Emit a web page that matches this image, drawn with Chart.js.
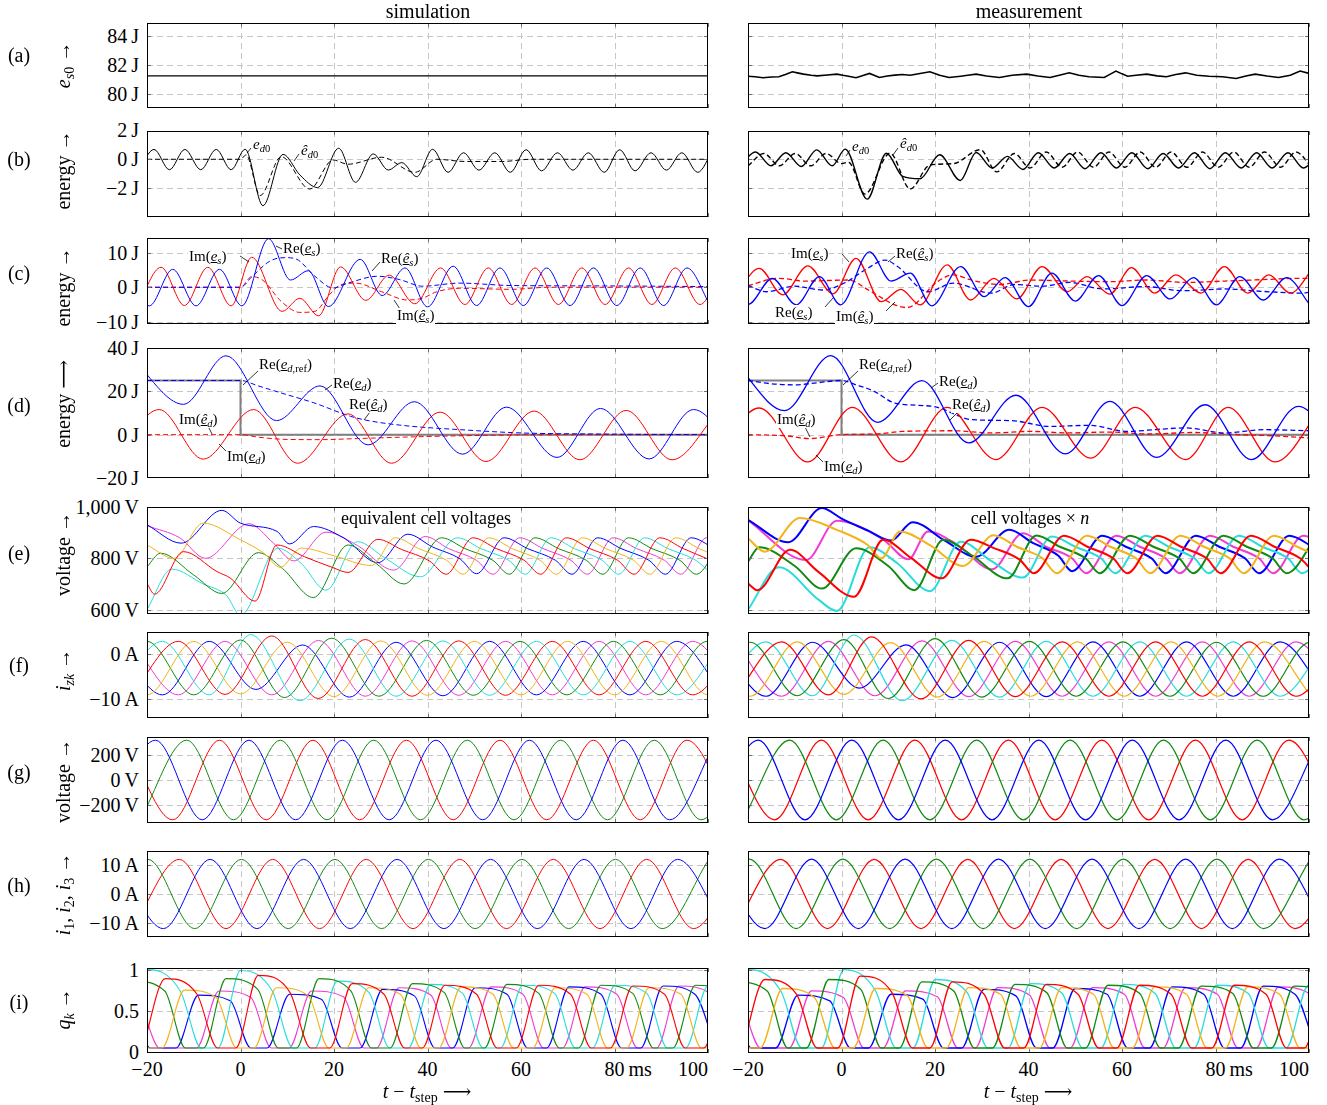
<!DOCTYPE html>
<html><head><meta charset="utf-8"><title>Step response: simulation and measurement</title>
<script src="https://cdn.jsdelivr.net/npm/chart.js@4.4.1/dist/chart.umd.min.js"></script>
<style>
html,body{margin:0;padding:0;background:#fff}
body{position:relative;width:1327px;height:1105px;overflow:hidden;font-family:"Liberation Serif","DejaVu Serif",serif;color:#000}
canvas.pl{position:absolute;display:block}
.tx{position:absolute;white-space:nowrap;line-height:1;font-size:20px}
.an{position:absolute;white-space:nowrap;line-height:1.05;font-size:15px;background:#fff;padding:0 1px}
sub{font-size:0.7em;vertical-align:-0.3em;line-height:0}
svg.ld{position:absolute;left:0;top:0;pointer-events:none}
</style></head><body>
<script>
// ---------- time axis (ms, relative to the step) ----------
const tTicks = [-20, 0, 20, 40, 60, 80, 100];
const tGrid = [0, 20, 40, 60, 80];
const tLabels = ['\u221220', '0', '20', '40', '60', '80', '100'];

// ---------- (a) sum energy e_s0 [J] : flat pairs t,value ----------
const aSimEs0 = [-20,81.26, 100,81.26];
const aMeasEs0 = [-20,81.24, -18.5,81.2, -16.8,81.13, -15,81.18, -13.4,81.2, -12,81.35, -10.5,81.54, -9.2,81.45, -8.1,81.38,
  -6.5,81.3, -5.2,81.26, -3,81.32, -1,81.38, 0.3,81.3, 1.5,81.24, 3.1,81.13, 4.6,81.28, 6,81.43, 8.1,81.15, 9.8,81.25,
  11.4,81.31, 13,81.36, 14.7,81.3, 16.8,81.42, 18.9,81.54, 21,81.3, 23,81.15, 25.5,81.24, 27,81.3, 28.8,81.38, 31,81.25,
  33.8,81.15, 36.5,81.3, 39.6,81.38, 42,81.25, 44.6,81.15, 46.8,81.32, 48.7,81.47, 50.8,81.3, 52.9,81.2, 56.2,81.15,
  57.5,81.38, 58.7,81.59, 60,81.4, 61.2,81.24, 63,81.3, 65.3,81.38, 67.5,81.26, 69.5,81.2, 71.5,81.35, 73.6,81.47,
  76,81.3, 78.6,81.24, 81.5,81.2, 84.4,81.08, 86.5,81.25, 88.5,81.38, 91,81.25, 93.5,81.15, 96,81.3, 98.1,81.59, 100,81.43];

// ---------- (b) e_d0 and its estimate [J] ----------
const bSimEd0 = [-21.8,-0.72, -18.5,0.68, -15.2,-0.72, -11.9,0.68, -8.5,-0.72, -5.2,0.68, -2,-0.72, 1.0,0.69, 4.8,-3.2,
  9.1,0.34, 12.7,-1.08, 16.5,-1.95, 21,0.76, 24.6,-1.59, 28.4,0.37, 31.6,-0.74, 34.5,-0.23, 37.7,-1.2, 41.1,0.69,
  44.4,-0.9, 47.7,0.45, 51,-0.75, 54.4,0.45, 57.7,-0.9, 61.1,0.66, 64.4,-0.8, 67.8,0.45, 71.1,-0.75, 74.4,0.45,
  77.8,-0.9, 81.1,0.66, 84.4,-0.8, 87.8,0.45, 91.1,-0.75, 94.4,0.45, 97.8,-0.9, 101.1,0.66];
const bSimEd0Hat = [-20,0, 0,0, 1.2,0.3, 4.2,-2.5, 8.7,0.18, 14.8,-2.05, 19.8,-0.05, 23,-0.34, 30.2,0.14, 37.3,-0.9,
  42,0, 48,-0.15, 56,-0.15, 62,0, 100,0];
const bMeasEd0 = [-21.7,-0.45, -18.4,0.5, -15.1,-0.45, -11.9,0.45, -8.6,-0.5, -5.3,0.65, -2,-0.45, 0.8,0.7, 5.5,-2.75,
  9.6,0.42, 13.1,-1.18, 16.8,-1.34, 21,0.31, 25.4,-1.46, 28.8,0.47, 32.2,-0.6, 35.5,0.2, 38.8,-0.7, 42.1,0.45,
  45.5,-0.6, 48.8,0.4, 52.1,-0.65, 55.5,0.45, 58.8,-0.6, 62.1,0.45, 65.5,-0.65, 68.8,0.4, 72.1,-0.6, 75.5,0.45,
  78.8,-0.65, 82.1,0.45, 85.5,-0.6, 88.8,0.45, 92.1,-0.6, 95.5,0.45, 98.8,-0.6, 102.1,0.45];
const bMeasEd0Hat = [-20,-0.45, -16.6,0.4, -13.3,-0.45, -9.9,0.4, -6.6,-0.45, -3.3,0.4, 0,-0.3, 1.5,-0.2, 5,-2.4,
  10.4,0.42, 14.7,-2.05, 18.9,-0.4, 23.9,-0.3, 29.7,0.66, 33.2,-0.87, 37,0.4, 40.3,-0.6, 43.8,0.5, 47.2,-0.55,
  50.5,0.5, 53.9,-0.55, 57.2,0.5, 60.6,-0.55, 63.9,0.5, 67.2,-0.55, 70.5,0.5, 73.9,-0.55, 77.2,0.5, 80.6,-0.55,
  83.9,0.5, 87.2,-0.55, 90.5,0.5, 93.9,-0.55, 97.2,0.5, 100.6,-0.55];

// ---------- (c) complex sum energy e_s [J] ----------
const cSimRe = [-24.5,5.2, -19.5,-5.4, -14.5,5.2, -9.5,-5.4, -4.5,5.2, 0.3,-5.4, 6,14.1, 10.7,2.1, 14.5,4.8, 18.8,-5.6,
  25.6,8.1, 30.3,-2.4, 35.2,5.6, 40,-5.7, 45.5,6.1, 50.5,-5.3, 55.5,5.6, 60.5,-5.3, 65.5,5.6, 70.5,-5.3, 75.5,5.6,
  80.5,-5.3, 85.5,5.6, 90.5,-5.3, 95.5,5.6, 100.5,-5.3];
const cSimIm = [-22,-5.2, -17,5.8, -12,-5.3, -7,5.8, -2,-5.4, 2.4,8.7, 8.9,-7.0, 12.7,-3.2, 16.7,-8.3, 21.4,5.9,
  26.8,-3.8, 31.8,3.5, 37.3,-4.8, 42.8,5.6, 48,-5.0, 53,5.6, 58,-5.0, 63,5.6, 68,-5.0, 73,5.6, 78,-5.0, 83,5.6,
  88,-5.0, 93,5.6, 98.3,-5.0, 103,5.6];
const cSimReHat = [-20,0, 0,0, 2.4,3.0, 6.3,7.6, 9.5,8.6, 11.9,8.2, 15.9,3.2, 19.8,-0.2, 23,1.2, 29.4,3.2, 34.1,2.2,
  38.9,0.3, 46.8,1.2, 58,0.5, 75,0.4, 100,0.2];
const cSimImHat = [-20,0, 0,0, 2.4,3.1, 4.8,2.0, 8.7,-4.1, 12.7,-7.3, 15.9,-7.0, 19,-2.2, 21.4,0.7, 24.6,1.2, 30.2,-1.3,
  35.7,-3.7, 38.9,-3.2, 42,-1.3, 46.8,-0.3, 58,-0.6, 66,0, 100,0];
const cMeasRe = [-25,2.6, -20,-5.0, -14.8,2.6, -9.7,-5.1, -4.7,3.1, -0.2,-5.1, 6,10.3, 10.6,1.8, 14.7,4.1, 19.3,-5.4,
  25.5,6.0, 30.5,-2.7, 35,2.8, 40,-5.6, 45,4.1, 50,-4.0, 55,3.4, 60,-5.3, 65.3,3.4, 70.3,-3.4, 75.3,2.8, 80.2,-5.1,
  85.2,3.1, 90.2,-3.7, 95.2,2.8, 100.2,-5.1];
const cMeasIm = [-22.5,-2.0, -17.6,5.5, -12.6,-2.2, -7.2,6.2, -1.8,-1.9, 3.1,8.4, 8.5,-4.2, 12.7,-0.6, 16.8,-5.1,
  22.6,6.5, 27.6,-3.7, 32.6,2.6, 37.5,-3.4, 42.9,6.0, 48.3,-1.3, 52.5,3.1, 57.4,-2.0, 62,5.7, 67,-1.7, 71.5,3.6,
  76.9,-1.7, 81.9,6.0, 86.9,-1.7, 91.4,3.6, 96,-1.7, 101,5.8];
const cMeasReHat = [-20,0.5, -16,-1.3, -10,0.3, -4,-0.8, 1,1.5, 5,5.0, 9.4,7.9, 12,6.0, 18.5,-1.3, 23.9,1.2, 32,-1.7,
  37,0.8, 43,0.3, 48.7,1.4, 56,-0.5, 65,0.2, 73,-1.0, 82,-0.5, 90,-1.2, 98.5,-1.7, 100,-1.5];
const cMeasImHat = [-20,0.5, -13.4,2.6, -8,1.8, 1.5,2.1, 6,-1.0, 11.4,-5.1, 14,-5.9, 20.5,1.6, 23.9,3.6, 28,2.0,
  33.8,0.8, 40.4,2.1, 48.7,1.8, 57,1.6, 65.3,2.1, 73.6,1.4, 82,1.8, 90,2.2, 98.5,2.6, 100,2.6];

// ---------- (d) complex difference energy e_d [J] ----------
const dRef = [-20,25, 0,25, 0,0, 100,0];
const dSimRe = [-23.5,36, -12.2,14, -3.1,36.4, 7.7,6.5, 17,22.5, 27.3,-4.7, 37.2,15.2, 47.5,-9, 56.9,12.7, 67.7,-10.5,
  77,12.1, 87.4,-11.2, 96.9,11.6, 107,-11.5];
const dSimIm = [-27,-11, -17.4,11.6, -8,-11.3, 2.8,11.6, 12.2,-13.2, 23,9.6, 32.3,-13.2, 42.7,10.4, 52.5,-12.4,
  62.8,10.9, 72.6,-11.6, 82.5,11.2, 92.3,-11.6, 102.3,11];
const dSimReHat = [-20,25, 0,25, 3.8,22.5, 9.7,18.6, 15.7,14.7, 23.5,8.5, 27.3,6.5, 35,4.2, 47,2.3, 60,0.8, 76.6,0.3, 100,0];
const dSimImHat = [-20,0, 0,0, 4,-1.2, 10,-2.2, 17,-2.3, 25,-1.8, 37,-1.0, 50,-0.4, 65,0, 100,0];
const dMeasRe = [-23,34, -12.2,11.1, -2.3,36.5, 7.7,5.7, 17.2,24.9, 27.2,-3.8, 37.3,18.2, 47.9,-8.9, 57.4,15.4,
  67.4,-10.5, 77.8,13.8, 87.7,-11.5, 97.7,13.1, 107.7,-11.5];
const dMeasIm = [-27.5,-12, -17.6,12.3, -7.2,-12.6, 2.3,12.6, 12.7,-12.6, 22.6,12.6, 33,-11.5, 42.9,12.6, 53.3,-10.8,
  62.8,12.6, 73.6,-11.5, 82.7,12.6, 92.7,-12.6, 102.7,12.6];
const dMeasReHat = [-20,25, -15,23.5, -10,23, -5,24, 0,25, 3.1,23, 7,20, 11.4,14.6, 19.7,13, 28,6.9, 36.3,6.5,
  44.6,3.8, 52.9,4.3, 61.2,1.5, 68,2.5, 73.6,3.1, 82,0.8, 90.2,2.3, 100,1.8];
const dMeasImHat = [-20,0, -12,-0.5, -6.8,-1.8, 0,0, 7.3,0.3, 13,1.5, 23.9,1.8, 32,0.8, 40.4,1.5, 48.7,0.8, 57,1.2,
  66,0.3, 75,1.0, 85,0, 92,-0.5, 100,-1.5];

// ---------- (e) cell voltages [V] ----------
const eSimRed = [-20,702, -18.4,660, -12.2,826, -5,748, -2.1,722, 3.1,633, 7.8,852, 13.7,806, 19.6,765, 23,745, 29.4,874,
  34.4,835, 40.4,790, 44,738, 49.7,880, 54.7,838, 60.7,792, 64.2,738, 69.7,880, 74.7,838, 80.7,792, 84.2,738, 89.7,880,
  94.7,838, 100.7,792];
const eSimOrange = [-20,852, -14.2,800, -8,937, 0,872, 5,820, 8.5,765, 13,840, 20,810, 28,772, 33.1,880, 38.1,838, 44.1,792,
  47.6,738, 53.1,880, 58.1,838, 64.1,792, 67.6,738, 73.1,880, 78.1,838, 84.1,792, 87.6,738, 93.1,880, 98.1,838, 104.1,792];
const eSimGreen = [-20,767, -17.1,820, -10,735, -4,663, 3.8,822, 9,760, 15.6,647, 23,852, 29,780, 35,700, 43,880, 48,838,
  54,792, 57.5,738, 63,880, 68,838, 74,792, 77.5,738, 83,880, 88,838, 94,792, 97.5,738, 103,880];
const eSimCyan = [-20,600, -14.7,758, -8,700, -3,655, 0,578, 8,839, 13,780, 18.3,676, 25,865, 31,800, 38.5,728, 46.4,880,
  51.4,838, 57.4,792, 60.9,738, 66.4,880, 71.4,838, 77.4,792, 80.9,738, 86.4,880, 91.4,838, 97.4,792, 100.9,738];
const eSimBlue = [-20,931, -12.7,859, -4,987, 0,937, 7.8,905, 10.5,856, 15.6,924, 22,880, 29.4,783, 35.8,894, 41,845,
  47,797, 50.5,740, 56.4,880, 61.4,838, 67.4,792, 70.9,738, 76.4,880, 81.4,838, 87.4,792, 90.9,738, 96.4,880, 101.4,838];
const eSimMagenta = [-20,927, -13,880, -7.5,800, 1.8,935, 7,860, 11.4,790, 18.3,902, 25,850, 32.8,754, 39.5,885, 44.5,838,
  50.5,792, 54,738, 59.7,880, 64.7,838, 70.7,792, 74.2,738, 79.7,880, 84.7,838, 90.7,792, 94.2,738, 99.7,880, 104.7,838];
const eMeasRed = [-20,702, -18,676, -11,833, -5,748, 2.7,650, 8.9,872, 15,800, 21.4,722, 27.6,872, 32.6,840, 38.1,795,
  41.1,742, 47.6,888, 52.6,845, 58.1,800, 61.1,742, 67.6,888, 72.6,845, 78.1,800, 81.1,742, 87.6,888, 92.6,845, 98.1,800,
  101.1,742];
const eMeasOrange = [-20,878, -16.4,826, -8.9,957, -1,911, 5.6,852, 8.5,800, 12.5,905, 19,850, 26,770, 32.5,890, 37.5,845,
  43,800, 46,742, 52.5,888, 57.5,845, 63,800, 66,742, 72.5,888, 77.5,845, 83,800, 86,742, 92.5,888, 97.5,845, 103,800];
const eMeasGreen = [-20,787, -17.6,843, -10,770, -4.2,682, 3.1,839, 10,770, 15.6,676, 21.8,872, 28,810, 35.5,722, 41.7,889,
  46.7,845, 52.2,800, 55.2,742, 61.7,888, 66.7,845, 72.2,800, 75.2,742, 81.7,888, 86.7,845, 92.2,800, 95.2,742, 101.7,888];
const eMeasCyan = [-20,600, -13.4,765, -5,640, -1,595, 6,843, 12,780, 18.9,672, 25.5,865, 32,790, 38.8,725, 45,885, 50,845,
  55.5,800, 58.5,742, 65,888, 70,845, 75.5,800, 78.5,742, 85,888, 90,845, 95.5,800, 98.5,742, 105,888];
const eMeasBlue = [-20,950, -11.4,863, -4.2,996, 0,955, 6,905, 10.6,869, 15.2,941, 22,870, 28.8,806, 35.9,911, 40.9,860,
  46.4,810, 49.3,750, 55.8,888, 60.8,845, 66.3,800, 69.3,742, 75.8,888, 80.8,845, 86.3,800, 89.3,742, 95.8,888, 100.8,845];
const eMeasMagenta = [-20,948, -7.6,793, -1,946, 9,872, 14.3,796, 18.5,905, 25,850, 32.2,757, 38.8,898, 43.8,845, 49.3,800,
  52.3,742, 58.8,888, 63.8,845, 69.3,800, 72.3,742, 78.8,888, 83.8,845, 89.3,800, 92.3,742, 98.8,888, 103.8,845];

// ---------- (f) branch currents i_zk [A] : extrema ----------
const fSimGreen = [-30,-9.0, -20,2.8, -10,-9.0, 0,3.1, 9.4,-9.6, 19.5,3.5, 29.6,-9.3, 39.8,3.0, 49.8,-9.1, 59.8,2.8, 69.8,-9.0, 79.8,2.8, 89.8,-9.0, 99.8,2.8, 109.8,-9.0];
const fSimCyan = [-26.7,-9.0, -16.7,2.8, -6.7,-9.0, 2.2,4.3, 12.7,-10.3, 23.3,3.3, 33.3,-9.3, 43.3,2.9, 53.3,-9.1, 63.3,2.8, 73.3,-9.0, 83.3,2.8, 93.3,-9.0, 103.3,2.8];
const fSimRed = [-23.3,-9.0, -13.3,2.8, -3.3,-8.9, 6.7,4.0, 16.6,-9.8, 26.7,3.2, 36.7,-9.3, 46.7,2.9, 56.7,-9.1, 66.7,2.8, 76.7,-9.0, 86.7,2.8, 96.7,-9.0, 106.7,2.8];
const fSimOrange = [-30,2.8, -20,-9.0, -10,2.8, 0,-8.8, 10,2.6, 20,-9.4, 30,2.9, 40,-9.1, 50,2.8, 60,-9.0, 70,2.8, 80,-9.0, 90,2.8, 100,-9.0, 110,2.8];
const fSimBlue = [-26.7,2.8, -16.7,-9.0, -6.7,2.8, 3.3,-7.8, 13.3,2.0, 23.3,-9.5, 33.3,2.6, 43.3,-9.2, 53.3,2.8, 63.3,-9.0, 73.3,2.8, 83.3,-9.0, 93.3,2.8, 103.3,-9.0];
const fSimMagenta = [-23.3,2.8, -13.3,-9.0, -3.3,2.8, 6.7,-9.0, 16.7,3.0, 26.7,-9.3, 36.7,2.9, 46.7,-9.1, 56.7,2.8, 66.7,-9.0, 76.7,2.8, 86.7,-9.0, 96.7,2.8, 106.7,-9.0];
const fMeasGreen = [-30,-9.2, -19.5,2.6, -9.5,-9.2, 0.5,3.2, 10,-9.8, 20,3.4, 30,-9.5, 40.2,2.8, 50.2,-9.3, 60.2,2.7, 70.2,-9.3, 80.2,2.6, 90.2,-9.3, 100.2,2.6, 110,-9.3];
const fMeasCyan = [-26.2,-9.3, -16.2,2.7, -6.2,-9.2, 2.7,4.2, 13,-10.3, 23.6,3.0, 33.8,-9.5, 43.8,2.8, 53.8,-9.3, 63.8,2.7, 73.8,-9.3, 83.8,2.7, 93.8,-9.3, 103.8,2.7];
const fMeasRed = [-22.8,-9.3, -12.8,2.7, -2.8,-9.0, 6.4,3.8, 17,-9.9, 27.2,3.0, 37.2,-9.4, 47.2,2.7, 57.2,-9.3, 67.2,2.7, 77.2,-9.3, 87.2,2.7, 97.2,-9.3, 107.2,2.7];
const fMeasOrange = [-29.5,2.7, -19.5,-9.3, -9.5,2.7, 0.5,-8.9, 10.5,2.5, 20.5,-9.5, 30.5,2.8, 40.5,-9.3, 50.5,2.7, 60.5,-9.3, 70.5,2.7, 80.5,-9.3, 90.5,2.7, 100.5,-9.3];
const fMeasBlue = [-26.2,2.7, -16.2,-9.3, -6.2,2.6, 3.8,-7.5, 13.8,2.0, 23.8,-9.6, 33.8,2.6, 43.8,-9.4, 53.8,2.7, 63.8,-9.3, 73.8,2.7, 83.8,-9.3, 93.8,2.7, 103.8,-9.3];
const fMeasMagenta = [-22.8,2.7, -12.8,-9.3, -2.8,2.8, 7.2,-9.2, 17.2,2.9, 27.2,-9.4, 37.2,2.8, 47.2,-9.3, 57.2,2.7, 67.2,-9.3, 77.2,2.7, 87.2,-9.3, 97.2,2.7, 107.2,-9.3];

// ---------- (g) phase voltages [V] : extrema ----------
const gSimBlue = [-28.2,-325, -18.2,325, -8.2,-325, 1.8,325, 11.8,-325, 21.8,325, 31.8,-325, 41.8,325, 51.8,-325, 61.8,325, 71.8,-325, 81.8,325, 91.8,-325, 101.8,325];
const gSimGreen = [-21.5,-325, -11.5,325, -1.5,-325, 8.5,325, 18.5,-325, 28.5,325, 38.5,-325, 48.5,325, 58.5,-325, 68.5,325, 78.5,-325, 88.5,325, 98.5,-325, 108.5,325];
const gSimRed = [-24.5,325, -14.5,-325, -4.5,325, 5.5,-325, 15.5,325, 25.5,-325, 35.5,325, 45.5,-325, 55.5,325, 65.5,-325, 75.5,325, 85.5,-325, 95.5,325, 105.5,-325];
const gMeasBlue = [-27.8,-325, -17.8,325, -7.8,-325, 2.2,325, 12.2,-325, 22.2,325, 32.2,-325, 42.2,325, 52.2,-325, 62.2,325, 72.2,-325, 82.2,325, 92.2,-325, 102.2,325];
const gMeasGreen = [-21.1,-325, -11.1,325, -1.1,-325, 8.9,325, 18.9,-325, 28.9,325, 38.9,-325, 48.9,325, 58.9,-325, 68.9,325, 78.9,-325, 88.9,325, 98.9,-325, 108.9,325];
const gMeasRed = [-24.3,325, -14.3,-325, -4.3,325, 5.7,-325, 15.7,325, 25.7,-325, 35.7,325, 45.7,-325, 55.7,325, 65.7,-325, 75.7,325, 85.7,-325, 95.7,325, 105.7,-325];

// ---------- (h) phase currents i1, i2, i3 [A] : extrema ----------
const hSimGreen = [-29.8,-12, -19.8,12, -9.8,-12, 0.2,12, 10.2,-12, 20.2,12, 30.2,-12, 40.2,12, 50.2,-12, 60.2,12, 70.2,-12, 80.2,12, 90.2,-12, 100.2,12];
const hSimRed = [-23.1,-12, -13.1,12, -3.1,-12, 6.9,12, 16.9,-12, 26.9,12, 36.9,-12, 46.9,12, 56.9,-12, 66.9,12, 76.9,-12, 86.9,12, 96.9,-12, 106.9,12];
const hSimBlue = [-26.5,12, -16.5,-12, -6.5,12, 3.5,-12, 13.5,12, 23.5,-12, 33.5,12, 43.5,-12, 53.5,12, 63.5,-12, 73.5,12, 83.5,-12, 93.5,12, 103.5,-12];
const hMeasGreen = [-29.7,-12, -19.7,12.1, -9.7,-12, 0.3,12.1, 10.3,-12, 20.3,12.1, 30.3,-12, 40.3,12.1, 50.3,-12, 60.3,12.1, 70.3,-12, 80.3,12.1, 90.3,-12, 100.3,12.1];
const hMeasRed = [-23,-12, -13,12, -3,-12, 7,12, 17,-12, 27,12, 37,-12, 47,12, 57,-12, 67,12, 77,-12, 87,12, 97,-12, 107,12];
const hMeasBlue = [-26.4,12.1, -16.4,-12, -6.4,12.1, 3.6,-12, 13.6,12.1, 23.6,-12, 33.6,12.1, 43.6,-12, 53.6,12.1, 63.6,-12, 73.6,12.1, 83.6,-12, 93.6,12.1, 103.6,-12];

// ---------- (i) insertion indices q_k : per pulse [peak time, peak, shoulder] ----------
const qLow = 0.045;          // level between pulses
const qRise = 4.8, qHold = 6.8, qFall = 4.4;   // pulse edges, ms
const iSimCyan = [[-19.6,1.0,0.73],[0,0.99,0.74],[20.7,0.86,0.72],[40.7,0.82,0.71],[60.4,0.81,0.71],[80.1,0.81,0.71],[100,0.8,0.7]];
const iSimRed = [[-16.1,0.89,0.7],[3.8,0.93,0.72],[23.9,0.83,0.7],[43.7,0.81,0.7],[63.8,0.81,0.7],[83.9,0.8,0.7],[103.9,0.8,0.7]];
const iSimOrange = [[-32,0.75,0.65],[-12,0.75,0.66],[7.7,0.78,0.68],[27.4,0.78,0.7],[47.2,0.79,0.7],[67.3,0.78,0.7],[87.4,0.78,0.7],[107.4,0.78,0.7]];
const iSimBlue = [[-30.5,0.69,0.62],[-9,0.69,0.62],[10.5,0.7,0.64],[30.4,0.76,0.68],[50.2,0.78,0.7],[70.3,0.79,0.7],[90.4,0.8,0.7]];
const iSimMagenta = [[-28.5,0.74,0.6],[-4.6,0.74,0.66],[15.2,0.74,0.67],[33.9,0.78,0.69],[53.6,0.79,0.7],[73.7,0.79,0.7],[93.8,0.8,0.7]];
const iSimGreen = [[-23,0.86,0.74],[-3.1,0.89,0.76],[16.8,0.89,0.74],[36.8,0.83,0.72],[57,0.82,0.71],[77.1,0.81,0.71],[97.3,0.81,0.71]];
const iMeasCyan = [[-19.7,1.0,0.73],[0.5,1.0,0.74],[20.1,0.88,0.72],[40.4,0.83,0.71],[60.3,0.82,0.71],[80.2,0.81,0.71],[99.9,0.81,0.7]];
const iMeasRed = [[-16.4,0.88,0.7],[4,0.92,0.72],[23.7,0.85,0.7],[43.8,0.82,0.7],[63.7,0.81,0.7],[84,0.81,0.7],[103.8,0.81,0.7]];
const iMeasOrange = [[-32.6,0.77,0.66],[-12.6,0.77,0.66],[7.3,0.77,0.68],[27.2,0.78,0.7],[47.1,0.78,0.7],[67,0.79,0.7],[86.9,0.79,0.7],[106.9,0.79,0.7]];
const iMeasBlue = [[-30.5,0.69,0.62],[-9.3,0.69,0.62],[10.6,0.7,0.64],[30.5,0.76,0.68],[50,0.77,0.7],[70.7,0.79,0.7],[90.2,0.8,0.7]];
const iMeasMagenta = [[-28.5,0.74,0.6],[-6.4,0.74,0.66],[13.7,0.74,0.67],[33.4,0.78,0.69],[53.7,0.78,0.7],[73.6,0.78,0.7],[93.5,0.79,0.7]];
const iMeasGreen = [[-22.7,0.85,0.74],[-2.7,0.88,0.76],[17.2,0.85,0.74],[37.1,0.82,0.72],[57,0.81,0.71],[76.9,0.8,0.71],[96.8,0.8,0.71]];

// ---------- layout ----------
const COLS = { sim: [147, 708], meas: [748, 1309] };
const ROWS = { a:[23,108], b:[131,217], c:[238,324], d:[348,478], e:[507,614], f:[632,718], g:[737,823], h:[851,937], i:[968,1053] };
const YRANGE = { a:[79.05,84.9], b:[-3.98,1.95], c:[-10.67,14.3], d:[-20,40], e:[583,1000], f:[-14.1,4.86], g:[-351,351], h:[-14.9,14.9], i:[-0.016,1.02] };
const YTICKS = { a:[80,82,84], b:[-2,0,2], c:[-10,0,10], d:[-20,0,20,40], e:[600,800,1000], f:[-10,0], g:[-200,0,200], h:[-10,0,10], i:[0,0.5,1] };
const TS = '\u2009', MINUS = '\u2212';
const YLABELS = {
  a:['80'+TS+'J','82'+TS+'J','84'+TS+'J'], b:[MINUS+'2'+TS+'J','0'+TS+'J','2'+TS+'J'],
  c:[MINUS+'10'+TS+'J','0'+TS+'J','10'+TS+'J'], d:[MINUS+'20'+TS+'J','0'+TS+'J','20'+TS+'J','40'+TS+'J'],
  e:['600'+TS+'V','800'+TS+'V','1,000'+TS+'V'], f:[MINUS+'10'+TS+'A','0'+TS+'A'],
  g:[MINUS+'200'+TS+'V','0'+TS+'V','200'+TS+'V'], h:[MINUS+'10'+TS+'A','0'+TS+'A','10'+TS+'A'], i:['0','0.5','1']
};
const K = { red:'#ff0000', orange:'#f2b31b', green:'#118a11', cyan:'#28dcdc', blue:'#0000ff', magenta:'#f03cd2', black:'#000000', gray:'#808080' };

// ---------- helpers ----------
function pts(a){ const o=[]; for(let i=0;i<a.length;i+=2) o.push({x:a[i], y:a[i+1]}); return o; }
function qKnots(cycles){ const a=[]; for(const c of cycles){ a.push(c[0]-qRise,qLow, c[0],c[1], c[0]+qHold,c[2], c[0]+qHold+qFall,qLow); } return a; }
function mono(k,color,w,dash){ return {data:pts(k), borderColor:color, borderWidth:w||1, borderDash:dash||[], pointRadius:0, fill:false, cubicInterpolationMode:'monotone'}; }
function lin(k,color,w,dash){ return {data:pts(k), borderColor:color, borderWidth:w||1, borderDash:dash||[], pointRadius:0, fill:false, tension:0}; }
function six(r,o,g,c,b,m,w){ return [mono(r,K.red,w),mono(o,K.orange,w),mono(g,K.green,w),mono(c,K.cyan,w),mono(b,K.blue,w),mono(m,K.magenta,w)]; }

const framePlugin = {
  id:'frame',
  beforeDatasetsDraw(chart, args, opts){
    const a=chart.chartArea, ctx=chart.ctx, xs=chart.scales.x, ys=chart.scales.y;
    ctx.save(); ctx.strokeStyle='#c6c6c6'; ctx.lineWidth=1; ctx.setLineDash([6,4]);
    ctx.beginPath();
    for(const v of tGrid){ const x=Math.round(xs.getPixelForValue(v))+0.5; ctx.moveTo(x,a.top); ctx.lineTo(x,a.bottom); }
    for(const v of opts.yTicks){ const y=Math.round(ys.getPixelForValue(v))+0.5; if(y>a.top+1 && y<a.bottom-1){ ctx.moveTo(a.left,y); ctx.lineTo(a.right,y); } }
    ctx.stroke(); ctx.restore();
  },
  afterDatasetsDraw(chart, args, opts){
    const a=chart.chartArea, ctx=chart.ctx, xs=chart.scales.x, ys=chart.scales.y;
    ctx.save(); ctx.strokeStyle='#6e6e6e'; ctx.lineWidth=1; ctx.beginPath();
    for(const v of tTicks){ const x=Math.round(xs.getPixelForValue(v))+0.5; ctx.moveTo(x,a.bottom); ctx.lineTo(x,a.bottom-4); ctx.moveTo(x,a.top); ctx.lineTo(x,a.top+4); }
    for(const v of opts.yTicks){ const y=Math.round(ys.getPixelForValue(v))+0.5; if(y>a.top && y<a.bottom){ ctx.moveTo(a.left,y); ctx.lineTo(a.left+4,y); ctx.moveTo(a.right,y); ctx.lineTo(a.right-4,y); } }
    ctx.stroke();
    ctx.strokeStyle='#000'; ctx.lineWidth=1; ctx.setLineDash([]);
    ctx.strokeRect(Math.round(a.left)+0.5, Math.round(a.top)+0.5, Math.round(a.right-a.left)-1, Math.round(a.bottom-a.top)-1);
    ctx.restore();
  }
};

function addText(html, x, y, cls, tf, extra){
  const d=document.createElement('div'); d.className=cls||'tx'; d.innerHTML=html;
  d.style.left=x+'px'; d.style.top=y+'px'; if(tf) d.style.transform=tf; if(extra) Object.assign(d.style, extra);
  document.body.appendChild(d); return d;
}

const PAD = 4;
function panel(col, row, sets){
  const [L,R]=COLS[col], [T,B]=ROWS[row];
  const cv=document.createElement('canvas'); cv.className='pl';
  const w=R-L+2*PAD, h=B-T+2*PAD;
  cv.width=w; cv.height=h; cv.style.width=w+'px'; cv.style.height=h+'px';
  cv.style.left=(L-PAD)+'px'; cv.style.top=(T-PAD)+'px';
  document.body.appendChild(cv);
  const chart=new Chart(cv,{
    type:'line', data:{datasets:sets},
    options:{ responsive:false, animation:false, events:[], devicePixelRatio:1,
      layout:{padding:PAD, autoPadding:false},
      plugins:{legend:{display:false}, tooltip:{enabled:false}, frame:{yTicks:YTICKS[row]}},
      elements:{line:{capBezierPoints:false}, point:{radius:0}},
      scales:{ x:{type:'linear', min:-20, max:100, display:false}, y:{type:'linear', min:YRANGE[row][0], max:YRANGE[row][1], display:false} } },
    plugins:[framePlugin]
  });
  if(col==='sim'){
    YTICKS[row].forEach((v,i)=>{ const y=T-PAD+chart.scales.y.getPixelForValue(v); addText(YLABELS[row][i], L-8, y, 'tx', 'translate(-100%,-50%)'); });
  }
  if(row==='i'){
    tTicks.forEach((v,i)=>{
      const x=L-PAD+chart.scales.x.getPixelForValue(v);
      let html=tLabels[i], tf='translate(-50%,-50%)';
      if(v===80) html='80<span style="position:absolute;left:100%;top:0">'+TS+'ms</span>';
      if(v===100) tf='translate(-100%,-50%)';
      addText(html, x, 1069, 'tx', tf);
    });
  }
  return chart;
}

// ---------- panels ----------
panel('sim','a',[lin(aSimEs0,K.black,1.3)]);
panel('meas','a',[lin(aMeasEs0,K.black,1.6)]);
panel('sim','b',[mono(bSimEd0,K.black,1), mono(bSimEd0Hat,K.black,1,[5,3])]);
panel('meas','b',[mono(bMeasEd0,K.black,1.4), mono(bMeasEd0Hat,K.black,1.4,[5,3])]);
panel('sim','c',[mono(cSimRe,K.blue,1), mono(cSimIm,K.red,1), mono(cSimReHat,K.blue,1,[5,3]), mono(cSimImHat,K.red,1,[5,3])]);
panel('meas','c',[mono(cMeasRe,K.blue,1.3), mono(cMeasIm,K.red,1.3), mono(cMeasReHat,K.blue,1.3,[5,3]), mono(cMeasImHat,K.red,1.3,[5,3])]);
panel('sim','d',[mono(dSimRe,K.blue,1), mono(dSimIm,K.red,1), mono(dSimReHat,K.blue,1,[5,3]), mono(dSimImHat,K.red,1,[5,3]), lin(dRef,K.gray,2)]);
panel('meas','d',[mono(dMeasRe,K.blue,1.3), mono(dMeasIm,K.red,1.3), mono(dMeasReHat,K.blue,1.3,[5,3]), mono(dMeasImHat,K.red,1.3,[5,3]), lin(dRef,K.gray,2)]);
panel('sim','e',six(eSimRed,eSimOrange,eSimGreen,eSimCyan,eSimBlue,eSimMagenta,1));
panel('meas','e',six(eMeasRed,eMeasOrange,eMeasGreen,eMeasCyan,eMeasBlue,eMeasMagenta,2));
panel('sim','f',six(fSimRed,fSimOrange,fSimGreen,fSimCyan,fSimBlue,fSimMagenta,1));
panel('meas','f',six(fMeasRed,fMeasOrange,fMeasGreen,fMeasCyan,fMeasBlue,fMeasMagenta,1.2));
panel('sim','g',[mono(gSimBlue,K.blue,1), mono(gSimGreen,K.green,1), mono(gSimRed,K.red,1)]);
panel('meas','g',[mono(gMeasBlue,K.blue,1.2), mono(gMeasGreen,K.green,1.2), mono(gMeasRed,K.red,1.2)]);
panel('sim','h',[mono(hSimBlue,K.blue,1), mono(hSimGreen,K.green,1), mono(hSimRed,K.red,1)]);
panel('meas','h',[mono(hMeasBlue,K.blue,1.2), mono(hMeasGreen,K.green,1.2), mono(hMeasRed,K.red,1.2)]);
panel('sim','i',six(qKnots(iSimRed),qKnots(iSimOrange),qKnots(iSimGreen),qKnots(iSimCyan),qKnots(iSimBlue),qKnots(iSimMagenta),1.1));
panel('meas','i',six(qKnots(iMeasRed),qKnots(iMeasOrange),qKnots(iMeasGreen),qKnots(iMeasCyan),qKnots(iMeasBlue),qKnots(iMeasMagenta),1.3));

// ---------- leader lines for the curve annotations ----------
const leaders = [
  [251,148,247,153],[299,154,294,161],[850,150,846,156],[898,148,893,155],
  [240,256,249,262],[282,249,276,246],[380,262,372,271],[400,309,394,300],
  [842,254,849,262],[895,256,888,262],[825,307,833,298],[886,311,895,302],
  [258,371,243,385],[332,385,325,390],[370,412,364,420],[208,426,212,434],[226,451,219,444],
  [858,371,843,385],[938,383,931,388],[958,412,950,420],[805,427,810,437],[823,462,816,455]
];
const svgNS='http://www.w3.org/2000/svg';
const svg=document.createElementNS(svgNS,'svg'); svg.setAttribute('class','ld'); svg.setAttribute('width','1327'); svg.setAttribute('height','1105');
for(const l of leaders){ const e=document.createElementNS(svgNS,'line'); e.setAttribute('x1',l[0]); e.setAttribute('y1',l[1]); e.setAttribute('x2',l[2]); e.setAttribute('y2',l[3]); e.setAttribute('stroke','#000'); e.setAttribute('stroke-width','0.8'); svg.appendChild(e); }
document.body.appendChild(svg);

// ---------- annotations ----------
const ue = '<i><u>e</u></i>', uh = '<i><u>\u00ea</u></i>';
const notes = [
  ['<i>e</i><sub><i>d</i>0</sub>',252,137], ['<i>\u00ea</i><sub><i>d</i>0</sub>',300,143],
  ['<i>e</i><sub><i>d</i>0</sub>',851,139], ['<i>\u00ea</i><sub><i>d</i>0</sub>',899,136],
  ['Im('+ue+'<sub><i>s</i></sub>)',188,249], ['Re('+ue+'<sub><i>s</i></sub>)',282,241], ['Re('+uh+'<sub><i>s</i></sub>)',380,251], ['Im('+uh+'<sub><i>s</i></sub>)',396,308],
  ['Im('+ue+'<sub><i>s</i></sub>)',790,246], ['Re('+uh+'<sub><i>s</i></sub>)',895,246], ['Re('+ue+'<sub><i>s</i></sub>)',774,305], ['Im('+uh+'<sub><i>s</i></sub>)',835,309],
  ['Re('+ue+'<sub><i>d</i>,ref</sub>)',258,357], ['Re('+ue+'<sub><i>d</i></sub>)',332,376], ['Re('+uh+'<sub><i>d</i></sub>)',348,397], ['Im('+uh+'<sub><i>d</i></sub>)',178,412], ['Im('+ue+'<sub><i>d</i></sub>)',226,449],
  ['Re('+ue+'<sub><i>d</i>,ref</sub>)',858,357], ['Re('+ue+'<sub><i>d</i></sub>)',938,374], ['Re('+uh+'<sub><i>d</i></sub>)',951,397], ['Im('+uh+'<sub><i>d</i></sub>)',776,412], ['Im('+ue+'<sub><i>d</i></sub>)',823,459]
];
for(const n of notes) addText(n[0], n[1], n[2], 'an');
addText('equivalent cell voltages', 426, 509, 'tx', 'translateX(-50%)', {fontSize:'18px'});
addText('cell voltages \u00d7 <i>n</i>', 1030, 509, 'tx', 'translateX(-50%)', {fontSize:'18px'});

// ---------- titles, row tags, axis titles ----------
addText('simulation', 428, 11, 'tx', 'translate(-50%,-50%)');
addText('measurement', 1029, 11, 'tx', 'translate(-50%,-50%)');
const rowTags = [['(a)',55],['(b)',159],['(c)',273],['(d)',405],['(e)',553],['(f)',665],['(g)',772],['(h)',885],['(i)',1002]];
for(const r of rowTags) addText(r[0], 19, r[1], 'tx', 'translate(-50%,-50%)');
const yTitles = [
  ['<i>e</i><sub><i>s</i>0</sub> \u2192',65], ['energy \u2192',170], ['energy \u2192',287], ['energy \u27f6',404],
  ['voltage \u2192',554], ['<i>i</i><sub><i>zk</i></sub> \u2192',670], ['voltage \u2192',781],
  ['<i>i</i><sub>1</sub>, <i>i</i><sub>2</sub>, <i>i</i><sub>3</sub> \u2192',894], ['<i>q</i><sub><i>k</i></sub> \u2192',1009]
];
for(const t of yTitles) addText(t[0], 63, t[1], 'tx', 'translate(-50%,-50%) rotate(-90deg)');
addText('<i>t</i> \u2212 <i>t</i><sub>step</sub> \u27f6', 427, 1091, 'tx', 'translate(-50%,-50%)');
addText('<i>t</i> \u2212 <i>t</i><sub>step</sub> \u27f6', 1028, 1091, 'tx', 'translate(-50%,-50%)');
</script>
</body></html>
